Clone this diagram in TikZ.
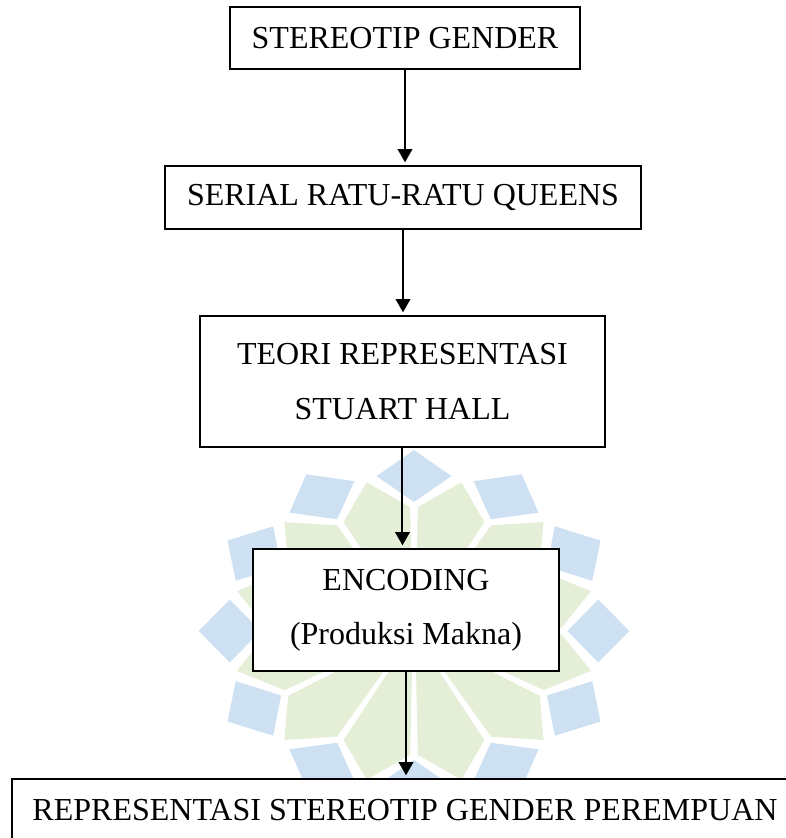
\documentclass[tikz,border=0pt]{standalone}
\usepackage{fontspec}
\setmainfont{Liberation Serif}
\usetikzlibrary{arrows.meta}
\def\px{0.375pt}
\definecolor{wmblue}{RGB}{206,225,243}
\definecolor{wmgreen}{RGB}{229,239,215}

\begin{document}
\begin{tikzpicture}[x=\px, y=-\px, line width=0.75pt]
    \tikzstyle{box}=[draw=black, fill=white, inner sep=0pt, align=center, font=\fontsize{12}{20.3}\selectfont]
    \tikzstyle{flow}=[-{Triangle[length=5pt,width=5.5pt]}, shorten >=1pt]
    \tikzstyle{petal blue}=[fill=wmblue]
    \tikzstyle{petal green}=[fill=wmgreen]

    % Page area, the last box runs off the edge
    \clip (0,0) rectangle (786,838);

    % Draw the watermark behind the chart
    \begin{scope}[shift={(414,631)}, xscale=1.19]
        \foreach \a in {0,30,...,330}
            \fill[petal blue] (\a:129) -- (\a+11.5:158) -- (\a:181) -- (\a-11.5:158) -- cycle;
        \foreach \a in {15,45,...,345}
            \fill[petal green] (\a:4) -- (\a-13.5:124) -- (\a:154) -- (\a+13.5:124) -- cycle;
    \end{scope}

    % Draw the boxes
    \node[box, minimum width=350*\px, minimum height=62*\px] (gender) at (405,38) {STEREOTIP GENDER};
    \node[box, minimum width=476*\px, minimum height=63*\px] (serial) at (403,197.5) {SERIAL RATU-RATU QUEENS};
    \node[box, minimum width=405*\px, minimum height=131*\px] (teori) at (402.5,381.5) {TEORI REPRESENTASI\\STUART HALL};
    \node[box, minimum width=306*\px, minimum height=122*\px] (encoding) at (406,610) {ENCODING\\(Produksi Makna)};
    \node[box, minimum width=786*\px, minimum height=62*\px] (hasil) at (405,810) {REPRESENTASI STEREOTIP GENDER PEREMPUAN};

    % Connect each box with the next one
    \draw[flow] (gender) -- (gender |- serial.north);
    \draw[flow] (serial.south) -- (serial.south |- teori.north);
    \draw[flow] (teori.south) -- (teori.south |- encoding.north);
    \draw[flow] (encoding.south) -- (encoding.south |- hasil.north);
\end{tikzpicture}
\end{document}
